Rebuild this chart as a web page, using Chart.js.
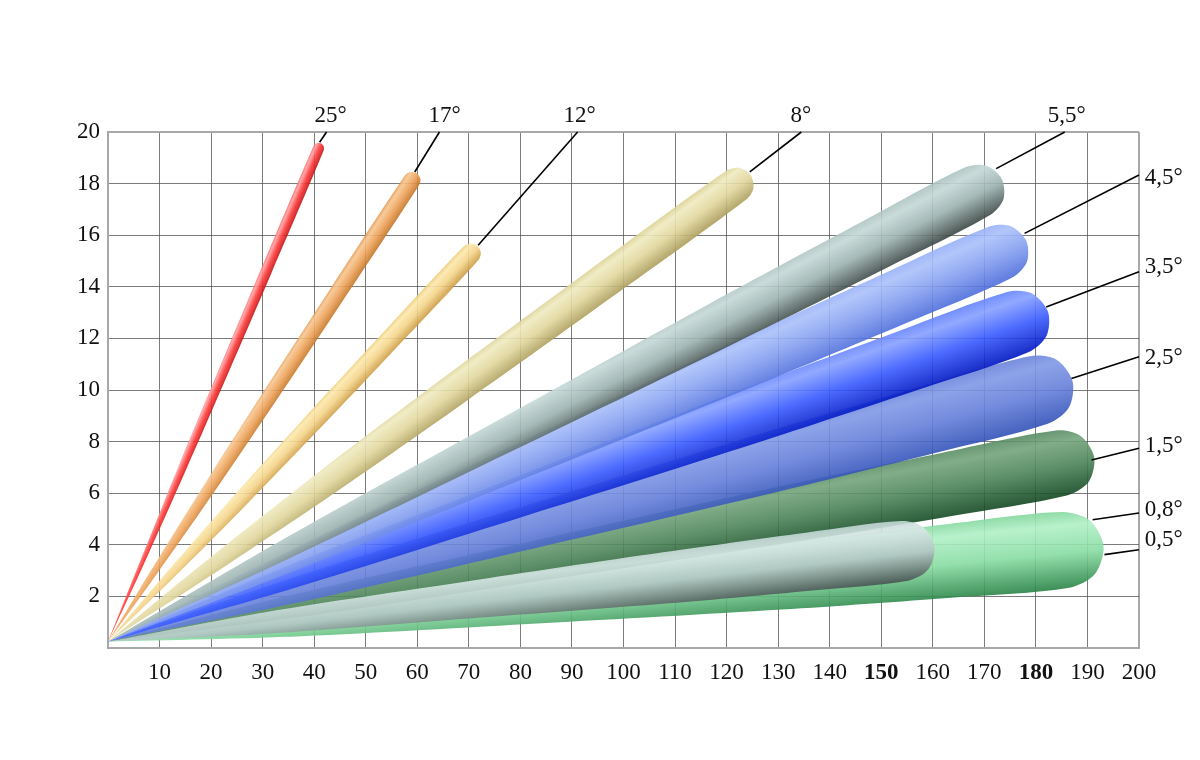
<!DOCTYPE html>
<html lang="es">
<head>
<meta charset="UTF-8">
<title>Lóbulos</title>
<script src="https://cdn.jsdelivr.net/npm/chart.js@4"></script>
<style>
  html, body { margin: 0; padding: 0; background: #fff; }
</style>
</head>
<body>
<canvas id="chart" width="1200" height="760"></canvas>
<script>
// contornos de los lóbulos [x, y]
const deg25 = [[0,0.25],[5.85,3.18],[13.65,7.03],[21.63,10.85],[29.68,14.68],[39.86,19.45],[40.44,19.56],[41.26,19.56],[41.83,19.45],[41.83,19.28],[31.65,14.51],[23.41,10.7],[15.11,6.9],[6.63,3.11],[0,0.25]];
const deg17 = [[0,0.25],[8.41,3.03],[19.7,6.66],[31.23,10.26],[42.89,13.85],[57.6,18.31],[58.64,18.45],[59.88,18.4],[60.59,18.19],[60.36,17.95],[45.64,13.49],[33.77,9.93],[21.76,6.39],[9.51,2.89],[0,0.25]];
const deg12 = [[0,0.25],[10.11,2.64],[23.66,5.73],[37.47,8.78],[51.41,11.8],[68.97,15.56],[70.33,15.68],[71.72,15.58],[72.33,15.31],[71.81,15.03],[54.25,11.28],[40.08,8.3],[25.79,5.34],[11.24,2.43],[0,0.25]];
const deg8 = [[0,0.25],[17.6,3.15],[41.25,6.87],[65.25,10.5],[89.45,14.07],[119.87,18.49],[122.39,18.61],[124.61,18.34],[125.21,17.83],[123.86,17.39],[93.44,12.98],[68.92,9.49],[44.24,6.05],[19.2,2.71],[0,0.25]];
const deg5_5 = [[0,0.25],[32.98,4.1],[74.51,8.7],[116.07,13.28],[146.14,16.51],[166.3,18.63],[170.29,18.7],[173.36,18.19],[173.7,17.39],[171.12,16.78],[150.81,14.71],[120.21,11.68],[77.5,7.55],[34.72,3.43],[0,0.25]];
const deg4_5 = [[0,0.25],[33.96,3.65],[76.66,7.68],[119.41,11.68],[150.31,14.5],[171.0,16.34],[175.16,16.35],[178.15,15.78],[178.23,14.95],[175.34,14.35],[154.52,12.57],[123.15,9.97],[79.35,6.45],[35.52,2.94],[0,0.25]];
const deg3_5 = [[0,0.25],[34.66,3.17],[78.22,6.56],[121.8,9.93],[153.31,12.28],[174.41,13.8],[179.16,13.75],[182.33,13.04],[182.07,12.1],[178.53,11.46],[157.3,10.02],[125.34,7.92],[80.77,5.11],[36.14,2.33],[0,0.25]];
const deg2_5 = [[0,0.25],[35.58,2.7],[80.22,5.47],[124.9,8.21],[157.2,10.1],[178.77,11.31],[183.93,11.18],[187.1,10.35],[186.43,9.33],[182.31,8.69],[160.63,7.57],[127.94,5.96],[82.42,3.85],[36.85,1.76],[0,0.25]];
const deg1_5 = [[0,0.25],[36.69,2.11],[82.61,4.16],[128.55,6.19],[161.69,7.56],[183.83,8.43],[188.62,8.23],[191.3,7.41],[190.29,6.45],[186.18,5.92],[163.97,5.13],[130.57,4.03],[84.07,2.61],[37.53,1.21],[0,0.25]];
const shortLobe = [[0,0.25],[30.78,1.4],[69.22,2.57],[107.66,3.71],[135.39,4.47],[153.9,4.92],[158.17,4.68],[160.33,3.9],[159.1,3.04],[155.2,2.61],[136.66,2.23],[108.79,1.73],[70.03,1.14],[31.25,0.56],[0,0.25]];
const deg0_5 = [[0,0.25],[37.01,1.52],[83.25,2.78],[129.49,4.01],[162.81,4.8],[185.08,5.27],[190.47,4.94],[193.12,3.95],[191.46,2.87],[186.48,2.34],[164.17,1.96],[130.69,1.49],[84.12,0.96],[37.52,0.46],[0,0.25]];

// etiquetas y líneas de referencia
const labelText = ['25°','17°','12°','8°','5,5°','4,5°','3,5°','2,5°','1,5°','0,8°','0,5°'];
const leaderFrom = [[41.05,19.6],[59.5,18.45],[71.8,15.61],[124.5,18.45],[172.3,18.58],[177.8,16.07],[182.0,13.22],[186.9,10.45],[190.8,7.29],[191.0,4.97],[193.3,3.62]];
const leaderTo = [[42.4,20],[64.3,20],[91.1,20],[134.5,20],[185.6,20],[200,18.33],[200,14.58],[200,11.29],[200,7.74],[200,5.23],[200,3.81]];
const labelAt = [[43.2,20.61],[65.3,20.61],[91.5,20.61],[134.4,20.61],[186,20.61],[201.1,18.21],[201.1,14.76],[201.1,11.24],[201.1,7.83],[201.1,5.35],[201.1,4.19]];

const boldTicks = [150, 180];

// colores: borde superior, brillo, medio, borde inferior
const lobes = [
  { pts: shortLobe, order: 0,  colors: ['#c4d8d6', '#d8e8e6', '#b2c6c4', '#4a5654'] },
  { pts: deg5_5,    order: 1,  colors: ['#aec4c2', '#c4d8d6', '#9cb2b0', '#3c4846'] },
  { pts: deg4_5,    order: 2,  colors: ['#98b0f8', '#aac0fa', '#86a0f0', '#4e6edc'] },
  { pts: deg3_5,    order: 3,  colors: ['#6684ff', '#86a0ff', '#3a5cff', '#0016c0'] },
  { pts: deg2_5,    order: 4,  colors: ['#6c84dc', '#8098e6', '#6680da', '#3252b8'] },
  { pts: deg1_5,    order: 5,  colors: ['#5a8c64', '#74a47c', '#4c8458', '#134823'] },
  { pts: deg0_5,    order: 6,  colors: ['#86d8a0', '#b0f0c6', '#88dca2', '#2a8448'] },
  { pts: deg8,      order: 7,  colors: ['#ddd498', '#f0eac0', '#e0d69c', '#ac9e5c'] },
  { pts: deg12,     order: 8,  colors: ['#eecf7c', '#fce8ac', '#f4d48a', '#cc9c44'] },
  { pts: deg17,     order: 9,  colors: ['#e8a05c', '#f6c690', '#eea45c', '#c47628'] },
  { pts: deg25,     order: 10, colors: ['#ff7070', '#ffa0a0', '#ff3a3a', '#c41414'] }
];
const lobeAlpha = 0.9;

function rgba(hex, a) {
  const v = parseInt(hex.slice(1), 16);
  return 'rgba(' + (v >> 16) + ',' + ((v >> 8) & 255) + ',' + (v & 255) + ',' + a + ')';
}

// degradado perpendicular al eje del lóbulo
function shade(pts, colors) {
  return (c) => {
    const chart = c.chart;
    if (!chart.chartArea) return rgba(colors[2], lobeAlpha);
    const sx = chart.scales.x, sy = chart.scales.y;
    const px = pts.map(p => [sx.getPixelForValue(p[0]), sy.getPixelForValue(p[1])]);
    const ox = px[0][0], oy = px[0][1];
    let len = 0, tx = ox, ty = oy;
    px.forEach(p => {
      const d = Math.hypot(p[0] - ox, p[1] - oy);
      if (d > len) { len = d; tx = p[0]; ty = p[1]; }
    });
    const dx = (tx - ox) / len, dy = (ty - oy) / len;
    const nx = dy, ny = -dx;
    let hi = -1e9, lo = 1e9;
    px.forEach(p => {
      const a = (p[0] - ox) * dx + (p[1] - oy) * dy;
      if (a < len * 0.8) return;
      const b = (p[0] - ox) * nx + (p[1] - oy) * ny;
      hi = Math.max(hi, b); lo = Math.min(lo, b);
    });
    const g = chart.ctx.createLinearGradient(ox + nx * hi, oy + ny * hi, ox + nx * lo, oy + ny * lo);
    g.addColorStop(0, rgba(colors[0], lobeAlpha));
    g.addColorStop(0.18, rgba(colors[1], lobeAlpha));
    g.addColorStop(0.55, rgba(colors[2], lobeAlpha));
    g.addColorStop(1, rgba(colors[3], lobeAlpha));
    return g;
  };
}

const leaders = {
  id: 'leaders',
  afterDatasetsDraw(chart) {
    const { ctx, scales: { x, y } } = chart;
    ctx.save();
    ctx.strokeStyle = '#000';
    ctx.lineWidth = 1.6;
    leaderFrom.forEach((f, i) => {
      const t = leaderTo[i];
      ctx.beginPath();
      ctx.moveTo(x.getPixelForValue(f[0]), y.getPixelForValue(f[1]));
      ctx.lineTo(x.getPixelForValue(t[0]), y.getPixelForValue(t[1]));
      ctx.stroke();
    });
    ctx.fillStyle = '#111';
    ctx.font = '23px "Liberation Serif"';
    ctx.textBaseline = 'middle';
    labelText.forEach((s, i) => {
      const p = labelAt[i];
      ctx.textAlign = p[0] > 200 ? 'left' : 'center';
      ctx.fillText(s, x.getPixelForValue(p[0]), y.getPixelForValue(p[1]));
    });
    ctx.restore();
  }
};

const tickFont = { family: '"Liberation Serif", serif', size: 23 };

new Chart(document.getElementById('chart'), {
  type: 'line',
  data: {
    datasets: lobes.map(l => ({
      data: l.pts.map(p => ({ x: p[0], y: p[1] })),
      fill: 'shape',
      backgroundColor: shade(l.pts, l.colors),
      borderColor: 'rgba(0,0,0,0)',
      borderWidth: 0,
      pointRadius: 0,
      tension: 0.3,
      order: l.order
    }))
  },
  options: {
    responsive: false,
    animation: false,
    devicePixelRatio: 1,
    layout: { padding: { left: 0, right: 61, top: 132, bottom: 72 } },
    plugins: { legend: { display: false }, tooltip: { enabled: false } },
    scales: {
      x: {
        type: 'linear', min: 0, max: 200,
        afterFit: s => { s.height = 40; },
        ticks: {
          stepSize: 10, autoSkip: false, maxRotation: 0, padding: 11, color: '#111',
          callback: v => v === 0 ? '' : v,
          font: c => ({ ...tickFont, weight: boldTicks.includes(c.tick && c.tick.value) ? 'bold' : 'normal' })
        },
        grid: {
          drawTicks: false,
          color: c => c.tick && c.tick.value === 200 ? '#a8a8a8' : 'rgba(80,80,80,0.75)',
          lineWidth: c => c.tick && c.tick.value === 200 ? 2 : 1
        },
        border: { color: '#a8a8a8', width: 2 }
      },
      y: {
        min: 0, max: 20,
        afterFit: s => { s.width = 108; },
        ticks: {
          stepSize: 2, padding: 8, color: '#111', font: tickFont,
          callback: v => v === 0 ? '' : v
        },
        grid: {
          drawTicks: false,
          color: c => c.tick && c.tick.value === 20 ? '#a8a8a8' : 'rgba(80,80,80,0.75)',
          lineWidth: c => c.tick && c.tick.value === 20 ? 2 : 1
        },
        border: { color: '#a8a8a8', width: 2 }
      }
    }
  },
  plugins: [leaders]
});
</script>
</body>
</html>
